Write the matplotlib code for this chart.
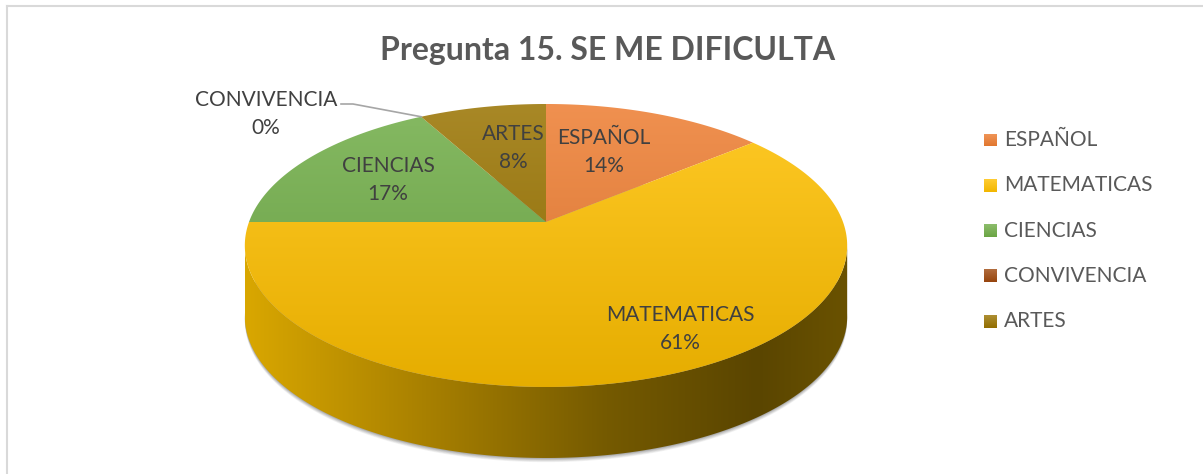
import numpy as np
import matplotlib.pyplot as plt
from matplotlib.patches import Polygon
from matplotlib.colors import LinearSegmentedColormap, to_rgb

# datos del grafico
materias = ["ESPAÑOL", "MATEMATICAS", "CIENCIAS", "CONVIVENCIA", "ARTES"]
porcentajes = [14, 61, 17, 0, 8]
colores = ["#ed7d31", "#ffc000", "#70ad47", "#9e480e", "#997300"]
titulo = "Pregunta 15. SE ME DIFICULTA"

plt.rcParams['font.family'] = ['Lato', 'DejaVu Sans']

W, H = 1203, 474
fig = plt.figure(figsize=(W / 100, H / 100), dpi=100)
ax = fig.add_axes([0, 0, 1, 1])
ax.set_xlim(0, W)
ax.set_ylim(H, 0)
ax.axis('off')

# geometria del pastel 3D (pixeles)
cx, cy = 546, 222
rx, a, b = 297, 137.6, 0.166
prof = 71


def proyecta(th, r=1.0):
    u = r * np.sin(th)
    v = -r * np.cos(th)
    d = 1 - b * v
    return cx + rx * u / d, cy + a * v / d


def aclara(c, f):
    c = np.array(to_rgb(c))
    return tuple(c + (1 - c) * f)


def oscurece(c, f):
    return tuple(np.array(to_rgb(c)) * (1 - f))


def relleno_grad(patch, c1, c2, extent):
    cmap = LinearSegmentedColormap.from_list("g", [c1, c2])
    grad = np.linspace(0, 1, 256).reshape(-1, 1)
    im = ax.imshow(grad, cmap=cmap, extent=extent, aspect='auto',
                   origin='upper', zorder=patch.get_zorder())
    im.set_clip_path(patch)


# marco
ax.plot([7, 7], [6, H], color="#d9d9d9", lw=1.5)
ax.plot([7, W], [6, 6], color="#d9d9d9", lw=1.5)

total = sum(porcentajes)
fr = np.array(porcentajes) / total
bordes = np.concatenate([[0], np.cumsum(fr)]) * 2 * np.pi

# sombra
th_all = np.linspace(0, 2 * np.pi, 400)
xs, ys = proyecta(th_all)
for k, al in zip(range(6), [0.05, 0.05, 0.06, 0.06, 0.07, 0.09]):
    off = 6 - k
    ax.add_patch(Polygon(np.column_stack([xs, ys + prof + off * 0.7]),
                         closed=True, fc="black", ec="none", alpha=al, zorder=1))

# lado frontal
th0 = np.arccos(-b)
th_lado = np.linspace(th0, 2 * np.pi - th0, 300)
lx, ly = proyecta(th_lado)
pts = np.concatenate([np.column_stack([lx, ly]),
                      np.column_stack([lx[::-1], ly[::-1] + prof])])
lado = Polygon(pts, closed=True, fc="none", ec="none", zorder=2)
ax.add_patch(lado)
cmap_lado = LinearSegmentedColormap.from_list(
    "lado", [(0, "#d9a700"), (0.3, "#a88000"), (0.6, "#755a00"), (0.85, "#5a4500"), (1, "#6a5200")])
grad = np.linspace(0, 1, 256).reshape(1, -1)
im = ax.imshow(grad, cmap=cmap_lado, extent=(lx.min(), lx.max(), ly.max() + prof, ly.min()),
               aspect='auto', zorder=2)
im.set_clip_path(lado)

# caras superiores
ytop = cy - a / (1 + b)
ybot = cy + a / (1 - b)
for i, c in enumerate(colores):
    if fr[i] <= 0:
        continue
    th = np.linspace(bordes[i], bordes[i + 1], max(int(fr[i] * 400), 4))
    px, py = proyecta(th)
    verts = np.vstack([[cx, cy], np.column_stack([px, py]), [cx, cy]])
    cuna = Polygon(verts, closed=True, fc="none", ec="none", zorder=3)
    ax.add_patch(cuna)
    relleno_grad(cuna, aclara(c, 0.15), oscurece(c, 0.1),
                 (cx - rx - 10, cx + rx + 10, ybot, ytop))

# etiquetas de datos
etiqueta_xy = [(604, 152), (680, 329), (388, 180), (266, 114), (513, 148)]
for i, m in enumerate(materias):
    x, y = etiqueta_xy[i]
    ax.text(x, y, f"{m}\n{porcentajes[i] / total * 100:.0f}%", ha="center", va="center",
            fontsize=15, color="#404040", linespacing=1.45, zorder=5)

# linea guia de CONVIVENCIA
gx, gy = proyecta(bordes[3])
ax.plot([341, 353, gx], [104, 104, gy], color="#a6a6a6", lw=1.2, zorder=4)

# titulo
ax.text(608, 50, titulo, ha="center", va="center", fontsize=23, fontweight="bold",
        color="#595959", zorder=5)

# leyenda
for i, m in enumerate(materias):
    y = 140 + i * 45.3
    sq = Polygon([[984, y - 6.5], [997, y - 6.5], [997, y + 6.5], [984, y + 6.5]],
                 closed=True, fc="none", ec="none", zorder=4)
    ax.add_patch(sq)
    relleno_grad(sq, aclara(colores[i], 0.2), oscurece(colores[i], 0.05), (984, 997, y + 6.5, y - 6.5))
    ax.text(1004, y, m, ha="left", va="center", fontsize=15, color="#595959")

fig.savefig("out.png", dpi=100)
